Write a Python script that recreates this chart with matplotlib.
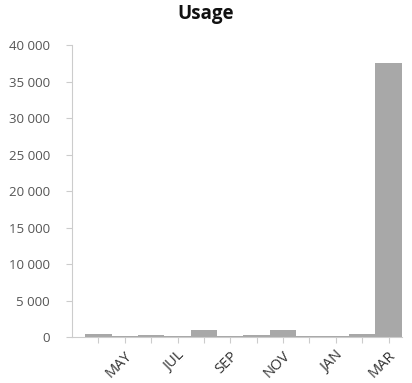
import matplotlib
matplotlib.use("Agg")
import matplotlib.pyplot as plt
from matplotlib.ticker import FuncFormatter

months = ["APR", "MAY", "JUN", "JUL", "AUG", "SEP", "OCT", "NOV", "DEC", "JAN", "FEB", "MAR"]
usage = [450, 120, 250, 200, 900, 150, 250, 1000, 150, 200, 400, 37500]
yticks = [0, 5000, 10000, 15000, 20000, 25000, 30000, 35000, 40000]

plt.rcParams['font.family'] = ['Open Sans', 'DejaVu Sans']

fig = plt.figure(figsize=(4.12, 3.83), dpi=100)
ax = fig.add_axes([0.175, 0.12, 0.80, 0.7625])

x = list(range(len(months)))
ax.bar(x, usage, width=1.0, color="#a8a8a8", edgecolor="#a8a8a8", linewidth=0)

ax.set_xlim(-1.0, 11.5)
ax.set_ylim(0, 40000)
ax.set_yticks(yticks)
ax.yaxis.set_major_formatter(FuncFormatter(lambda v, p: f"{int(v):,}".replace(",", " ")))
ax.set_xticks(x)
ax.set_xticklabels([m if i % 2 == 1 else "" for i, m in enumerate(months)],
                   rotation=45, ha="right", rotation_mode="anchor")

for s in ["top", "right"]:
    ax.spines[s].set_visible(False)
for s in ["left", "bottom"]:
    ax.spines[s].set_color("#cccccc")
    ax.spines[s].set_linewidth(0.8)

ax.tick_params(axis="y", colors="#555555", labelsize=9.5, length=4, color="#cccccc", pad=12)
ax.tick_params(axis="x", colors="#333333", labelsize=10.5, length=4, color="#cccccc", pad=4)

fig.suptitle("Usage", fontsize=13.5, fontweight="bold", y=0.99, color="#111111")

fig.savefig("out.png", dpi=100)
